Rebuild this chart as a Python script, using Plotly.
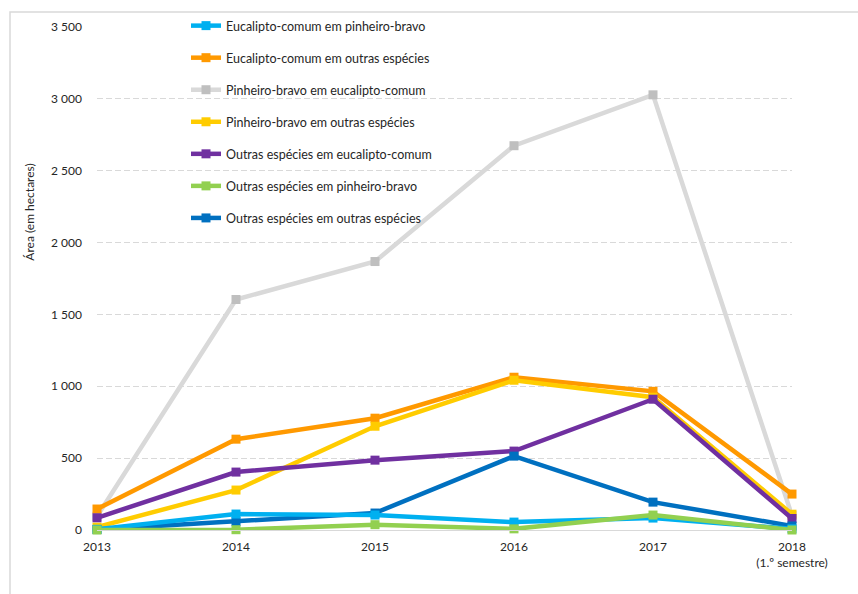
import plotly.graph_objects as go

years = [2013, 2014, 2015, 2016, 2017, 2018]
tick_labels = ["2013", "2014", "2015", "2016", "2017", "2018<br>(1.º semestre)"]

series_names = [
    "Eucalipto-comum em pinheiro-bravo",
    "Eucalipto-comum em outras espécies",
    "Pinheiro-bravo em eucalipto-comum",
    "Pinheiro-bravo em outras espécies",
    "Outras espécies em eucalipto-comum",
    "Outras espécies em pinheiro-bravo",
    "Outras espécies em outras espécies",
]
euc_pin = [5, 111, 104, 55, 83, 8]
euc_out = [146, 632, 778, 1063, 965, 250]
pin_euc = [95, 1604, 1868, 2674, 3028, 100]
pin_out = [20, 278, 722, 1042, 924, 110]
out_euc = [85, 403, 486, 549, 910, 80]
out_pin = [0, 2, 37, 8, 104, 0]
out_out = [3, 58, 118, 514, 194, 28]

values = [euc_pin, euc_out, pin_euc, pin_out, out_euc, out_pin, out_out]
line_colors = ["#00B0F0", "#FF9900", "#D9D9D9", "#FFCC00", "#7030A0", "#92D050", "#0070C0"]
marker_colors = ["#00B0F0", "#FF9900", "#BFBFBF", "#FFCC00", "#7030A0", "#92D050", "#0070C0"]

# drawing order: grey behind, others on top
draw_order = [2, 1, 3, 4, 6, 0, 5]

FONT = "Lato"

fig = go.Figure()
for i in draw_order:
    fig.add_trace(go.Scatter(
        x=years, y=values[i], name=series_names[i], mode="lines+markers",
        line=dict(color=line_colors[i], width=4.5),
        marker=dict(symbol="square", size=9, color=marker_colors[i]),
        cliponaxis=False, legendrank=i + 1, legendgroup="g%d" % i,
    ))

fig.update_layout(
    width=858, height=594,
    margin=dict(l=97, r=66, t=26, b=64),
    paper_bgcolor="white", plot_bgcolor="white",
    separators=", ",
    font=dict(family=FONT, size=12, color="#262626"),
    showlegend=True,
    legend=dict(
        x=(186 - 97) / 695, y=(530 - 11) / 504, xanchor="left", yanchor="top",
        bgcolor="rgba(0,0,0,0)", font=dict(family=FONT, size=12.5, color="#262626"),
        tracegroupgap=12.8, traceorder="grouped",
    ),
    xaxis=dict(
        range=[2013, 2018], tickvals=years, ticktext=tick_labels,
        showgrid=False, zeroline=False, showline=True, linecolor="#D9D9D9", linewidth=1,
        ticks="", ticklabelstandoff=6, tickfont=dict(size=12, color="#262626"),
    ),
    yaxis=dict(
        range=[0, 3500], tickvals=[0, 500, 1000, 1500, 2000, 2500, 3000, 3500],
        tickformat=",d", showgrid=True, gridcolor="#D9D9D9", griddash="6px,3px", gridwidth=1,
        zeroline=False, showline=False, ticks="", ticklabelstandoff=14,
        tickfont=dict(size=12, color="#262626"),
    ),
    shapes=[dict(
        type="rect", xref="paper", yref="paper",
        x0=(10 - 97) / 695, x1=(870 - 97) / 695,
        y0=(530 - 610) / 504, y1=(530 - 11) / 504,
        line=dict(color="#D9D9D9", width=1.5), fillcolor="rgba(0,0,0,0)", layer="below",
    )],
    annotations=[dict(
        text="Área (em hectares)", xref="paper", yref="paper",
        x=(30 - 97) / 695, y=(530 - 212) / 504, textangle=-90, showarrow=False,
        font=dict(family=FONT, size=12, color="#262626"), xanchor="center", yanchor="middle",
    )],
)

fig.write_html("out.html")
